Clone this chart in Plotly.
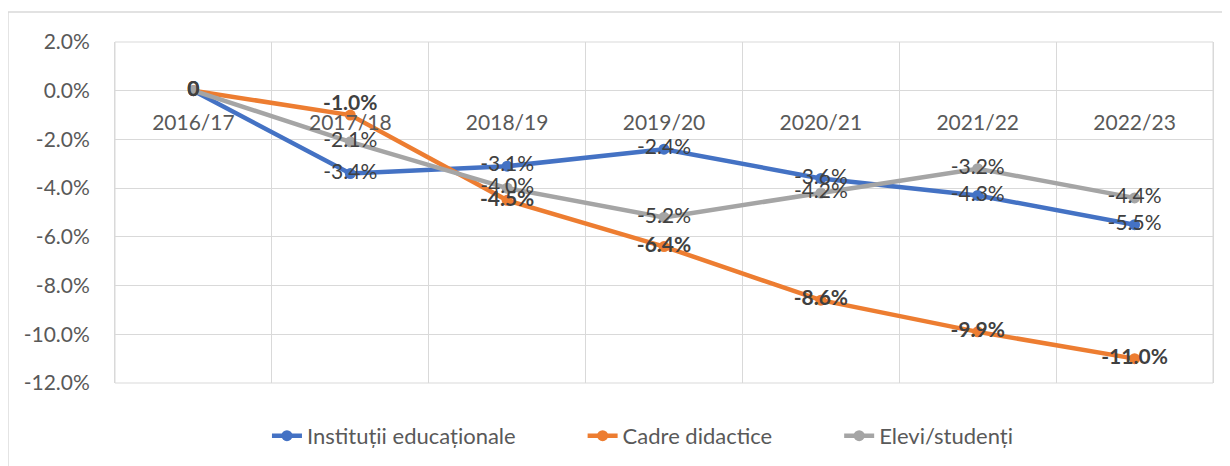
import plotly.graph_objects as go

categories = ["2016/17", "2017/18", "2018/19", "2019/20", "2020/21", "2021/22", "2022/23"]
institutii = [0.0, -3.4, -3.1, -2.4, -3.6, -4.3, -5.5]
cadre = [0.0, -1.0, -4.5, -6.4, -8.6, -9.9, -11.0]
elevi = [0.0, -2.1, -4.0, -5.2, -4.2, -3.2, -4.4]
y_ticks = [2, 0, -2, -4, -6, -8, -10, -12]

series = [
    ("Instituții educaționale", institutii, "#4472C4", "normal", 11),
    ("Cadre didactice", cadre, "#ED7D31", "bold", 11),
    ("Elevi/studenți", elevi, "#A5A5A5", "normal", 0),
]

FONT = "Lato"
FS = 21
GRID = "#D9D9D9"


def label(i, v):
    return "0" if i == 0 else f"{v:.1f}%"


fig = go.Figure()
for name, vals, color, _, pad in series:
    fig.add_trace(go.Scatter(
        x=categories, y=vals, name=name + "\u00a0" * pad, mode="lines+markers",
        line=dict(color=color, width=4.5),
        marker=dict(color=color, size=11),
    ))

for name, vals, color, weight, _ in series:
    pos = ["middle center"] * len(vals)
    if name == "Cadre didactice":
        pos[1] = "top center"
    fig.add_trace(go.Scatter(
        x=categories, y=vals, mode="text", showlegend=False,
        text=[label(i, v) for i, v in enumerate(vals)],
        textposition=pos,
        textfont=dict(family=FONT, size=FS, color="#404040", weight=weight),
        hoverinfo="skip",
    ))

fig.update_layout(
    width=1230, height=466,
    margin=dict(l=107, r=25, t=34, b=91, autoexpand=False),
    paper_bgcolor="white", plot_bgcolor="white",
    font=dict(family=FONT, size=FS, color="#595959"),
    legend=dict(orientation="h", x=0.1384, xanchor="left", y=-0.155, yanchor="middle",
                font=dict(family=FONT, size=22, color="#595959")),
    xaxis=dict(type="category", range=[-0.5, len(categories) - 0.5], automargin=False,
               tickson="boundaries", showgrid=True, gridcolor=GRID, gridwidth=1,
               ticks="", showline=False, anchor="free", position=0.805,
               tickfont=dict(family=FONT, size=FS, color="#595959")),
    yaxis=dict(range=[min(y_ticks), max(y_ticks)], tickvals=y_ticks, automargin=False,
               ticktext=[f"{t:.1f}%" for t in y_ticks],
               showgrid=True, gridcolor=GRID, gridwidth=1, zeroline=False,
               showline=True, linecolor=GRID, mirror=True, ticks="",
               ticklabelstandoff=20,
               tickfont=dict(family=FONT, size=FS, color="#595959")),
    shapes=[
        dict(type="rect", xref="x domain", yref="y domain", x0=0, x1=1, y0=0, y1=1,
             line=dict(color=GRID, width=1), layer="below"),
        dict(type="rect", xref="paper", yref="paper", x0=-0.0975, x1=1.03, y0=-0.3, y1=1.088,
             line=dict(color=GRID, width=1.5), layer="below"),
    ],
)

fig.write_html("out.html")
